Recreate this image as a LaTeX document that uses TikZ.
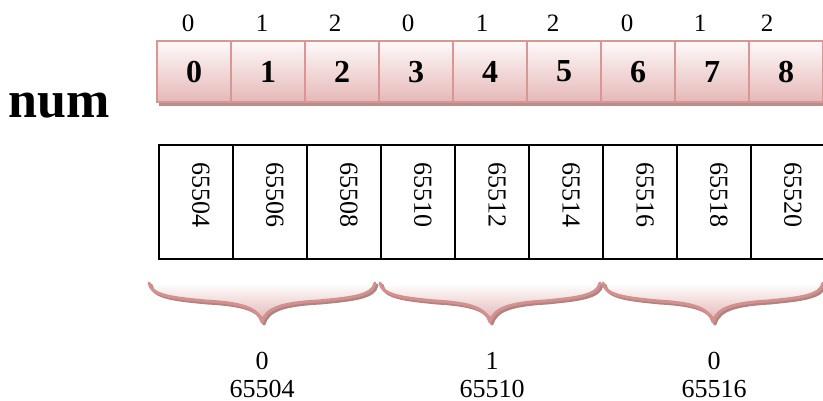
\documentclass[tikz,border=0pt]{standalone}
\usepackage{fontspec}
\setmainfont{Liberation Serif}
\usetikzlibrary{shadows,calc}

\definecolor{cellline}{HTML}{D99694}
\definecolor{cellpink}{HTML}{E5B8B7}
\definecolor{celltop}{HTML}{FEF9F9}
\definecolor{cellshade}{HTML}{B58F8F}
\definecolor{bracepink}{HTML}{D68F8D}
\definecolor{braceshade}{HTML}{AA8686}
\definecolor{bracefill}{HTML}{E2B3B2}

% one curly brace opening upwards: centre x, half width
\newcommand\bracecurve[2]{({#1-#2},283) .. controls ({#1-#2+2},296) and ({#1-#2+25},298) .. ({#1-#2/2},301) .. controls ({#1-20},303) and ({#1-4},308) .. (#1,322) .. controls ({#1+4},308) and ({#1+20},303) .. ({#1+#2/2},301) .. controls ({#1+#2-25},298) and ({#1+#2-2},296) .. ({#1+#2},283)}

\begin{document}
\begin{tikzpicture}[x=1pt,y=-1pt,
  idx/.style={font=\fontsize{25}{25}\selectfont, anchor=base, inner sep=0},
  cell/.style={draw=cellline, line width=2.2pt, top color=celltop, bottom color=cellpink,
    minimum width=74pt, minimum height=61pt, inner sep=0, anchor=north west,
    font=\bfseries\fontsize{32}{32}\selectfont,
    drop shadow={shadow xshift=2pt, shadow yshift=-4pt, fill=cellshade, opacity=1}},
  addr/.style={draw=black, line width=2pt, fill=white, minimum width=74pt,
    minimum height=114pt, inner sep=0, anchor=north west},
  addrtext/.style={font=\fontsize{26}{26}\selectfont, rotate=-90, anchor=west, inner sep=0},
  grp/.style={font=\fontsize{26}{26}\selectfont, anchor=base, inner sep=0},
  braceline/.style={bracepink, line width=3pt, line cap=round, line join=round},
  braceshadow/.style={braceshade, line width=3pt, line cap=round, line join=round}]
\useasboundingbox (0,0) rectangle (823,401);

% array name
\node[font=\bfseries\fontsize{52}{52}\selectfont, anchor=base, inner sep=0] (name) at (59,118) {num};

% column indices above the cells
\foreach \x/\t [count=\i from 0] in {188/0,262/1,335/2,408/0,482/1,553/2,627/0,700/1,767/2}
  \node[idx] (idx\i) at (\x,32) {\t};

% element cells
\foreach \i in {0,...,8}
  \node[cell] (c\i) at ({156+74*\i},40) {\i};

% addresses of the elements (65504, 65506, ...)
\foreach \i in {0,...,8} {
  \node[addr] (a\i) at ({158+74*\i},144) {};
  \pgfmathtruncatemacro\low{504+2*\i}
  \node[addrtext] (t\i) at ($(a\i.north)+(5,18)$) {65\low};
}

% braces grouping the rows
\foreach \c/\w [count=\k from 0] in {262/113,490/110,713/110} {
  \shade[top color=white, bottom color=bracefill] \bracecurve{\c}{\w} -- cycle;
  \draw[braceshadow, shift={(2,2)}] \bracecurve{\c}{\w};
  \draw[braceline] \bracecurve{\c}{\w};
  \coordinate (tip\k) at (\c,322);
}

% row indices and row addresses
\node[grp] (r0) at (262,369) {0};
\node[grp] (ra0) at (262,397) {65504};
\node[grp] (r1) at (492,369) {1};
\node[grp] (ra1) at (492,397) {65510};
\node[grp] (r2) at (714,369) {0};
\node[grp] (ra2) at (714,397) {65516};
\end{tikzpicture}
\end{document}
